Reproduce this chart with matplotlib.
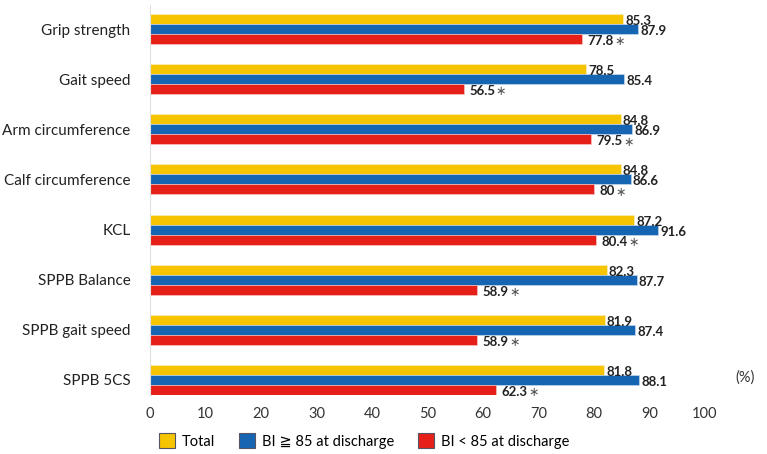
import matplotlib.pyplot as plt
import matplotlib.patches as patches
import numpy as np

categories = ["Grip strength", "Gait speed", "Arm circumference", "Calf circumference",
              "KCL", "SPPB Balance", "SPPB gait speed", "SPPB 5CS"]
total = [85.3, 78.5, 84.8, 84.8, 87.2, 82.3, 81.9, 81.8]
bi_high = [87.9, 85.4, 86.9, 86.6, 91.6, 87.7, 87.4, 88.1]
bi_low = [77.8, 56.5, 79.5, 80, 80.4, 58.9, 58.9, 62.3]
bi_low_labels = ["77.8", "56.5", "79.5", "80", "80.4", "58.9", "58.9", "62.3"]
series_names = ["Total", "BI \u2267 85 at discharge", "BI < 85 at discharge"]
colors = ["#F6C400", "#1565B3", "#E62019"]

plt.rcParams['font.family'] = ['Lato', 'DejaVu Sans']

fig = plt.figure(figsize=(7.67, 4.54), dpi=100)
ax = fig.add_axes([150 / 767, 59 / 454, 555 / 767, 390 / 454])

y = np.arange(len(categories))
h = 0.2
ax.barh(y - h, total, height=h, color=colors[0], edgecolor='#f7f0d0', linewidth=0.4)
ax.barh(y, bi_high, height=h, color=colors[1], edgecolor='#cfe0f2', linewidth=0.4)
ax.barh(y + h, bi_low, height=h, color=colors[2], edgecolor='#f6d0cc', linewidth=0.4)

lab_kw = dict(va='center', ha='left', fontsize=9.5, fontweight='bold', color='#222222')
for i in range(len(categories)):
    ax.text(total[i] + 0.4, y[i] - h + 0.04, f"{total[i]}", **lab_kw)
    ax.text(bi_high[i] + 0.4, y[i] + 0.04, f"{bi_high[i]}", **lab_kw)
    t = ax.text(bi_low[i] + 1.0, y[i] + h + 0.04, bi_low_labels[i], **lab_kw)
    ax.annotate("\u2217", xy=(1, 0.5), xycoords=t, xytext=(0.5, -0.5), textcoords='offset points',
                va='center', ha='left', fontsize=9, color='#555555',
                family=['DejaVu Sans'])

ax.set_xlim(0, 100)
ax.set_ylim(7.3, -0.48)
ax.set_xticks(np.arange(0, 101, 10))
ax.set_yticks(y)
ax.set_yticklabels(categories, fontsize=11, color='#222222')
ax.tick_params(axis='x', length=0, pad=9, labelsize=10.5, labelcolor='#333333')
ax.tick_params(axis='y', length=0, pad=14)
for s in ['top', 'right', 'bottom']:
    ax.spines[s].set_visible(False)
ax.spines['left'].set_color('#e0e0e0')
ax.spines['left'].set_linewidth(0.8)

fig.text(745 / 767, 1 - 378 / 454, "(%)", ha='center', va='center', fontsize=10.5,
         color='#333333')

handles = [patches.Patch(facecolor=c, edgecolor='#555566', linewidth=0.8, label=n)
           for c, n in zip(colors, series_names)]
fig.legend(handles=handles, loc='center left', bbox_to_anchor=(153 / 767, 1 - 441 / 454),
           ncol=3, frameon=False, fontsize=10.5, handlelength=1.1, handleheight=1.2,
           handletextpad=0.5, columnspacing=1.6, borderaxespad=0)

fig.savefig("out.png", dpi=100)
